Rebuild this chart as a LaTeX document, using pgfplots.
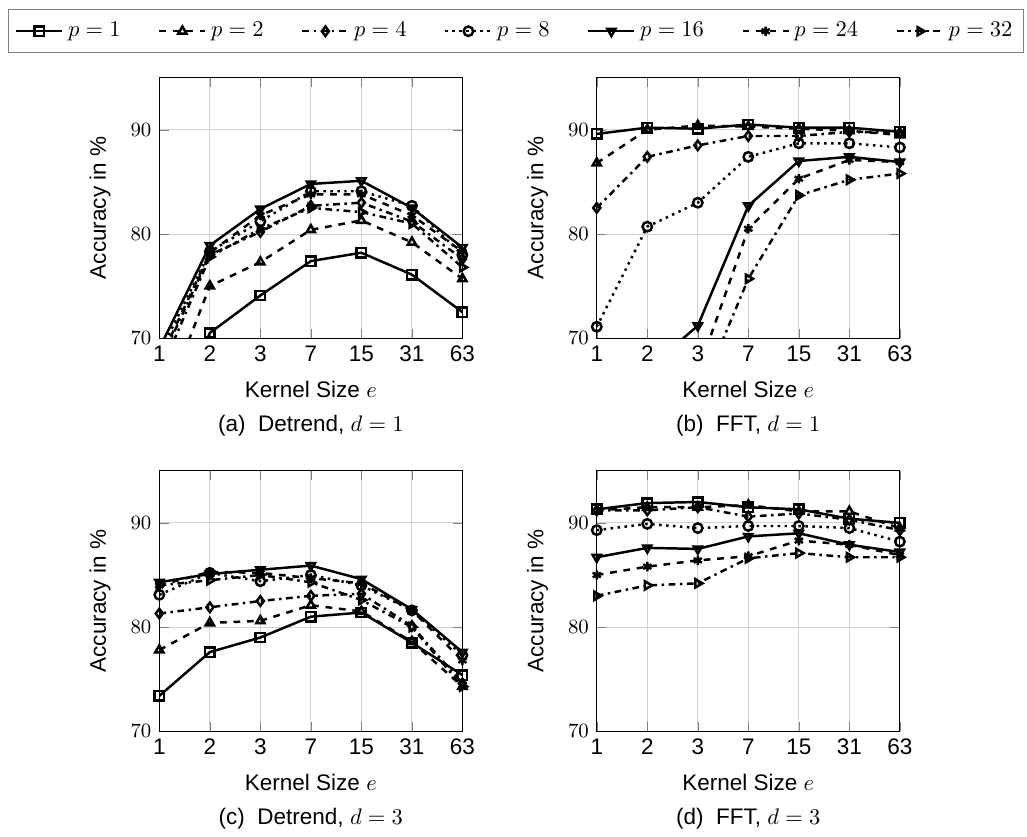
\documentclass[border=0pt]{standalone}
\usepackage{fontspec}
\setmainfont{Liberation Sans}
\usepackage{pgfplots}
\pgfplotsset{compat=1.18}

\pgfplotsset{
  acc/.style={
    scale only axis, width=134.7pt, height=115.8pt,
    xmin=0, xmax=6, ymin=70, ymax=95,
    xtick={0,...,6}, xticklabels={1,2,3,7,15,31,63},
    ytick={70,80,90},
    grid=major, grid style={gray!35},
    xlabel={Kernel Size $e$}, ylabel={Accuracy in \%},
    xlabel style={yshift=-1.5pt},
    ylabel shift=2pt,
    yticklabel style={font=\small},
    title style={at={(0.5,-0.387)}, anchor=center},
    legend image code/.code={%
      \draw[mark repeat=2,mark phase=2] plot coordinates {(0cm,0cm) (0.36cm,0cm) (0.72cm,0cm)};},
  },
  base/.style={black, line width=1.1pt, mark size=2.1pt},
  s1/.style={base, solid, mark=square, mark options={solid}},
  s2/.style={base, dashed, mark=triangle, mark options={solid}},
  s4/.style={base, dashdotted, mark=diamond, mark options={solid}},
  s8/.style={base, dotted, mark=o, mark options={solid}},
  s16/.style={base, solid, mark=triangle, mark options={solid, rotate=180}},
  s24/.style={base, dashed, mark=asterisk, mark options={solid}},
  s32/.style={base, dashdotted, mark=triangle, mark options={solid, rotate=-90}},
}

\begin{document}
\begin{tikzpicture}
\path (0,0) rectangle (456.4pt,-369.8pt);

% (a) Detrend, d=1
\begin{axis}[acc, at={(70.8pt,-34.5pt)}, anchor=north west,
    title={(a)~~Detrend, $d=1$},
    legend columns=7,
    legend style={at={(1.177,1.178)}, anchor=center, draw=gray,
      font=\normalsize, inner ysep=3.5pt,
      /tikz/every even column/.append style={column sep=14.6pt}},
  ]
\addplot[s1]  coordinates {(0,60.0) (1,70.5) (2,74.1) (3,77.4) (4,78.2) (5,76.1) (6,72.5)};
\addplot[s2]  coordinates {(0,62.5) (1,75.0) (2,77.3) (3,80.4) (4,81.3) (5,79.2) (6,75.7)};
\addplot[s4]  coordinates {(0,67.5) (1,78.0) (2,80.2) (3,82.7) (4,83.0) (5,81.2) (6,77.6)};
\addplot[s8]  coordinates {(0,68.5) (1,78.3) (2,81.2) (3,84.1) (4,84.1) (5,82.7) (6,78.0)};
\addplot[s16] coordinates {(0,69.0) (1,78.9) (2,82.4) (3,84.8) (4,85.1) (5,82.5) (6,78.7)};
\addplot[s24] coordinates {(0,67.8) (1,78.2) (2,81.8) (3,83.8) (4,83.8) (5,81.8) (6,78.3)};
\addplot[s32] coordinates {(0,66.5) (1,77.8) (2,80.5) (3,82.5) (4,82.1) (5,81.0) (6,76.8)};
\legend{$p=1$,$p=2$,$p=4$,$p=8$,$p=16$,$p=24$,$p=32$}
\end{axis}

% (b) FFT, d=1
\begin{axis}[acc, at={(265.2pt,-34.5pt)}, anchor=north west,
    title={(b)~~FFT, $d=1$}]
\addplot[s1]  coordinates {(0,89.6) (1,90.2) (2,90.1) (3,90.5) (4,90.2) (5,90.2) (6,89.8)};
\addplot[s2]  coordinates {(0,86.8) (1,90.0) (2,90.4) (3,90.3) (4,90.1) (5,89.9) (6,89.5)};
\addplot[s4]  coordinates {(0,82.5) (1,87.4) (2,88.5) (3,89.4) (4,89.4) (5,89.8) (6,89.7)};
\addplot[s8]  coordinates {(0,71.1) (1,80.7) (2,83.0) (3,87.4) (4,88.7) (5,88.7) (6,88.3)};
\addplot[s16] coordinates {(0,62.0) (1,67.0) (2,71.2) (3,82.7) (4,87.0) (5,87.4) (6,86.9)};
\addplot[s24] coordinates {(0,58.0) (1,62.0) (2,66.7) (3,80.5) (4,85.3) (5,87.1) (6,86.9)};
\addplot[s32] coordinates {(0,55.0) (1,60.0) (2,64.1) (3,75.7) (4,83.7) (5,85.2) (6,85.8)};
\end{axis}

% (c) Detrend, d=3
\begin{axis}[acc, at={(70.8pt,-209.2pt)}, anchor=north west,
    title={(c)~~Detrend, $d=3$}]
\addplot[s1]  coordinates {(0,73.4) (1,77.6) (2,79.0) (3,81.0) (4,81.4) (5,78.5) (6,75.4)};
\addplot[s2]  coordinates {(0,77.8) (1,80.4) (2,80.6) (3,82.1) (4,81.5) (5,78.6) (6,74.3)};
\addplot[s4]  coordinates {(0,81.3) (1,81.9) (2,82.5) (3,83.0) (4,83.2) (5,80.1) (6,74.6)};
\addplot[s8]  coordinates {(0,83.1) (1,85.2) (2,84.4) (3,85.0) (4,84.0) (5,81.6) (6,77.3)};
\addplot[s16] coordinates {(0,84.3) (1,85.1) (2,85.5) (3,85.9) (4,84.6) (5,81.7) (6,77.6)};
\addplot[s24] coordinates {(0,84.0) (1,85.3) (2,85.2) (3,84.7) (4,84.2) (5,81.6) (6,76.8)};
\addplot[s32] coordinates {(0,84.0) (1,84.5) (2,85.0) (3,84.3) (4,82.6) (5,80.0) (6,74.3)};
\end{axis}

% (d) FFT, d=3
\begin{axis}[acc, at={(265.2pt,-209.2pt)}, anchor=north west,
    title={(d)~~FFT, $d=3$}]
\addplot[s1]  coordinates {(0,91.3) (1,91.9) (2,92.0) (3,91.5) (4,91.3) (5,90.4) (6,90.0)};
\addplot[s2]  coordinates {(0,91.2) (1,91.5) (2,91.5) (3,91.7) (4,91.1) (5,91.1) (6,89.5)};
\addplot[s4]  coordinates {(0,91.2) (1,91.2) (2,91.5) (3,90.6) (4,90.9) (5,90.3) (6,89.3)};
\addplot[s8]  coordinates {(0,89.3) (1,89.9) (2,89.5) (3,89.7) (4,89.7) (5,89.5) (6,88.2)};
\addplot[s16] coordinates {(0,86.7) (1,87.6) (2,87.5) (3,88.7) (4,89.0) (5,87.9) (6,87.2)};
\addplot[s24] coordinates {(0,85.0) (1,85.8) (2,86.4) (3,86.8) (4,88.3) (5,87.9) (6,86.9)};
\addplot[s32] coordinates {(0,83.0) (1,84.0) (2,84.2) (3,86.6) (4,87.1) (5,86.7) (6,86.7)};
\end{axis}
\end{tikzpicture}
\end{document}
